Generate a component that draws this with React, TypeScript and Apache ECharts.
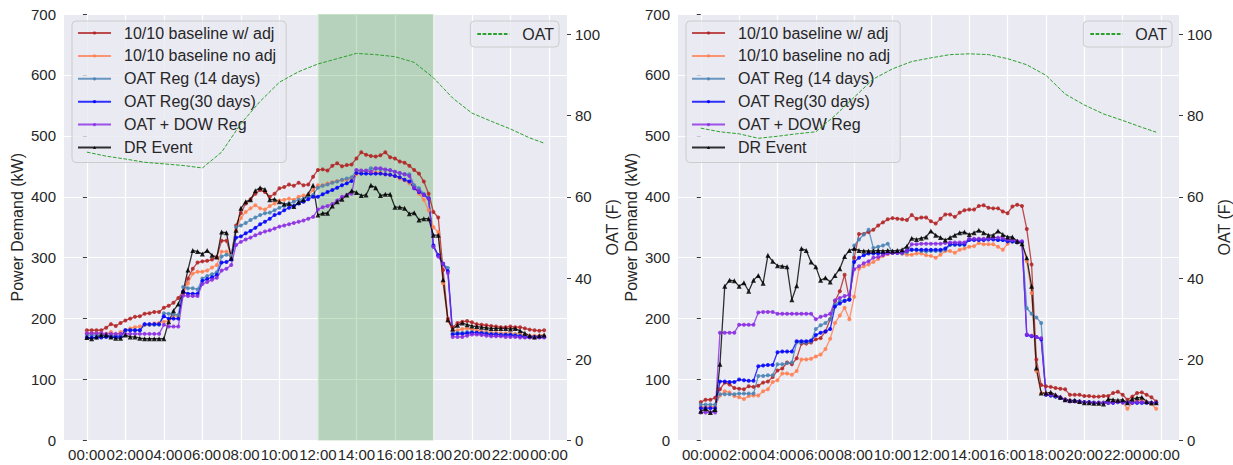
import React, { useEffect, useRef } from 'react';
import * as echarts from 'echarts';

// ---------- data ----------
const SERIES_NAMES = [
  '10/10 baseline w/ adj',
  '10/10 baseline no adj',
  'OAT Reg (14 days)',
  'OAT Reg(30 days)',
  'OAT + DOW Reg',
  'DR Event',
];
const SERIES_COLORS = ['#b22222', '#ff7f50', '#4682b4', '#0000ff', '#8a2be2', '#000000'];
const OAT_NAME = 'OAT';

// x tick labels (hours)
const X_TICKS = [0, 2, 4, 6, 8, 10, 12, 14, 16, 18, 20, 22, 24];
const OAT_TICKS = [0, 20, 40, 60, 80, 100];
const DR_WINDOW = [12, 18];

// OAT readings (hour of day -> F)
const OAT_HOURS = [0, 1, 2, 3, 4, 5, 6, 7, 8, 9, 10, 11, 12, 13, 14, 15, 16, 17, 18, 19, 20, 21, 22, 23, 23.75];
const L_OAT = [71.0, 70.0, 69.3, 68.5, 68.1, 67.7, 67.1, 71.0, 78.0, 83.5, 88.2, 90.8, 92.7, 94.0, 95.3, 95.0, 94.5, 93.1, 89.3, 84.3, 80.6, 78.6, 76.7, 74.5, 73.2];
const R_OAT = [76.9, 76.0, 75.5, 74.4, 74.9, 75.5, 76.0, 80.0, 84.5, 89.0, 91.5, 93.3, 94.2, 95.0, 95.2, 95.0, 94.0, 92.5, 89.9, 85.3, 82.6, 80.4, 78.8, 77.1, 75.9];

// 15-minute power demand (kW), left chart
const L_ADJ = [181,181,181,181,185,191,188,193,197,200,203,204,208,209,211,211,218,221,226,234,244,266,282,292,294,295,297,301,328,328,302,353,373,389,396,405,411,408,400,405,414,416,420,418,423,419,420,433,444,445,443,451,455,450,452,453,463,473,469,467,466,468,473,465,463,458,456,451,444,438,425,405,375,366,280,200,186,193,195,196,194,191,190,189,188,187,186,186,187,186,186,184,182,181,180,181];
const L_NOADJ = [176,176,176,176,175,178,174,178,181,184,186,187,190,190,192,193,195,196,205,204,240,258,274,277,277,279,284,288,310,310,303,345,365,375,381,386,381,379,385,389,394,395,397,395,400,402,403,411,419,419,422,424,426,427,428,430,437,441,442,441,440,440,437,436,434,430,427,422,415,405,395,378,350,342,258,197,180,181,183,184,182,181,179,178,177,177,176,176,176,175,174,173,172,172,172,172];
const L_OAT14 = [173,173,173,173,172,172,172,172,181,181,181,181,190,190,190,190,209,208,207,206,252,250,250,248,266,270,273,276,302,305,303,350,353,357,362,366,370,373,374,378,382,385,389,392,395,397,400,403,415,418,420,423,425,428,430,432,443,442,442,447,446,445,444,443,441,439,437,437,419,414,405,398,318,304,290,283,176,177,177,178,178,177,177,176,175,175,174,174,174,173,172,171,170,170,170,170];
const L_OAT30 = [169,169,169,169,170,170,170,170,181,181,181,181,191,191,191,191,204,200,200,200,244,241,241,241,262,265,268,272,292,293,297,333,335,340,344,349,355,359,364,370,373,378,382,385,389,392,396,400,400,404,408,411,415,419,422,426,439,438,438,438,438,438,437,436,434,432,428,425,414,408,403,397,320,304,290,278,174,175,175,176,177,177,176,175,174,174,173,173,173,172,171,170,170,170,170,170];
const L_DOW = [176,176,176,176,175,175,175,175,175,175,175,175,175,175,175,175,190,187,187,187,238,237,237,237,257,260,264,267,279,282,288,321,326,330,333,337,340,343,345,348,351,353,355,357,359,361,364,367,379,383,385,388,394,400,403,405,444,443,443,441,447,447,445,444,441,439,437,434,415,410,403,397,318,302,290,275,170,170,170,172,174,174,173,172,171,171,171,170,170,170,169,169,169,169,169,169];
const L_DR = [169,167,170,173,173,170,168,168,173,170,170,168,167,167,167,167,167,195,213,224,245,280,312,310,306,312,304,301,342,341,299,345,381,392,395,410,415,412,395,396,392,388,389,384,391,395,405,419,370,373,373,385,392,396,403,410,407,402,403,419,415,402,404,404,383,383,381,372,374,362,364,364,337,337,264,198,183,189,193,190,188,187,186,185,184,184,184,184,183,184,180,176,172,170,172,173];

// 15-minute power demand (kW), right chart
const R_ADJ = [63,67,67,70,84,95,92,86,85,84,89,88,90,95,97,104,115,118,128,125,135,159,159,161,166,168,179,199,229,245,272,232,300,339,339,342,346,353,358,363,365,364,363,362,370,364,366,366,360,356,364,371,371,367,374,378,379,379,385,386,382,381,381,376,373,384,387,385,347,289,133,91,89,88,86,85,84,75,75,75,73,73,72,72,73,73,78,80,75,67,72,78,79,75,71,64];
const R_NOADJ = [55,55,55,56,74,81,79,73,71,68,73,74,74,81,84,96,99,110,110,108,114,133,133,134,138,141,150,167,193,205,218,199,236,282,286,289,293,298,303,306,308,308,307,305,305,307,307,304,303,300,305,311,311,308,313,315,318,319,324,322,322,322,318,313,323,327,325,325,294,242,114,78,77,75,73,70,68,66,65,64,63,63,62,62,62,62,63,64,63,52,62,65,66,63,60,52];
const R_OAT14 = [59,59,59,59,76,76,76,76,77,77,77,77,106,106,107,107,125,125,127,128,161,161,161,163,183,189,193,199,223,229,230,232,320,330,338,346,316,318,320,323,308,308,307,309,313,313,311,310,311,311,311,313,321,321,321,321,330,330,330,330,331,331,329,329,327,326,325,325,217,208,202,193,75,74,72,70,67,65,65,64,63,63,62,62,62,62,62,63,63,62,62,62,62,62,62,62];
const R_OAT30 = [53,53,53,53,97,97,96,96,100,99,98,98,122,123,124,124,145,146,146,146,163,163,163,164,173,177,179,183,220,225,229,231,293,300,304,307,307,307,307,308,308,308,309,312,313,313,313,313,313,313,313,315,322,322,322,322,329,329,329,329,330,330,329,329,327,327,326,326,173,171,170,166,75,74,72,70,67,65,65,64,63,63,62,62,62,62,62,63,63,62,62,62,62,62,62,62];
const R_DOW = [46,46,46,46,177,177,177,177,190,190,190,190,210,211,211,211,208,208,208,208,208,208,208,208,199,203,205,208,230,234,237,239,281,286,291,294,300,301,304,307,308,308,308,311,322,322,323,323,323,323,323,324,325,325,325,325,331,331,331,331,331,333,333,332,330,329,327,327,174,172,170,168,76,75,73,71,67,64,64,63,63,62,62,62,62,62,63,63,62,62,62,63,63,62,62,62];
const R_DR = [48,52,46,51,125,253,263,262,253,259,245,263,271,258,304,294,287,286,285,231,254,315,312,293,285,263,267,260,271,282,302,312,315,312,311,311,311,312,311,312,311,312,313,319,332,330,332,334,344,337,333,329,333,337,341,342,338,341,345,341,337,337,344,338,334,334,327,323,300,253,119,78,78,79,75,71,67,66,66,64,62,62,61,61,60,68,67,66,67,62,68,70,71,64,62,62];

const LEFT_POWER = [L_ADJ, L_NOADJ, L_OAT14, L_OAT30, L_DOW, L_DR];
const RIGHT_POWER = [R_ADJ, R_NOADJ, R_OAT14, R_OAT30, R_DOW, R_DR];
const STEP_HOURS = 0.25;

// ---------- styling ----------
const FONT = 'Liberation Sans, Arial, sans-serif';
const TEXT = '#262626';
const BG = '#eaeaf2';
const GRIDS = [
  { left: 64, top: 14, width: 503, height: 426.5 },
  { left: 678, top: 14, width: 503, height: 426.5 },
];

function fmtHour(v: number) {
  const h = ((v % 24) + 24) % 24;
  return (h < 10 ? '0' : '') + h + ':00';
}

function buildOption() {
  const xAxis = GRIDS.map((_, gi) => ({
    type: 'value',
    gridIndex: gi,
    min: -1.1875,
    max: 24.9375,
    axisLine: { show: false },
    axisTick: { show: false, customValues: X_TICKS },
    axisLabel: {
      customValues: X_TICKS,
      formatter: fmtHour,
      fontSize: 15,
      color: TEXT,
      fontFamily: FONT,
      margin: 6,
    },
    splitLine: { show: true, lineStyle: { color: '#ffffff', width: 1.2 } },
  }));

  const yAxis: any[] = [];
  GRIDS.forEach((_, gi) => {
    yAxis.push({
      type: 'value',
      gridIndex: gi,
      min: 0,
      max: 700,
      interval: 100,
      position: 'left',
      name: 'Power Demand (kW)',
      nameLocation: 'middle',
      nameGap: 39,
      nameTextStyle: { fontSize: 16, color: TEXT, fontFamily: FONT },
      axisLine: { show: false },
      axisTick: { show: true, length: 4, lineStyle: { color: '#3a3a3a', width: 1 } },
      axisLabel: { fontSize: 15, color: TEXT, fontFamily: FONT, margin: 8 },
      splitLine: { show: true, lineStyle: { color: '#ffffff', width: 1.2 } },
    });
    yAxis.push({
      type: 'value',
      gridIndex: gi,
      min: 0,
      max: 105,
      position: 'right',
      name: 'OAT (F)',
      nameLocation: 'middle',
      nameGap: 37,
      nameTextStyle: { fontSize: 16, color: TEXT, fontFamily: FONT },
      axisLine: { show: false },
      axisTick: { show: true, length: 4, customValues: OAT_TICKS, lineStyle: { color: '#3a3a3a', width: 1 } },
      axisLabel: { customValues: OAT_TICKS, fontSize: 15, color: TEXT, fontFamily: FONT, margin: 8 },
      splitLine: { show: false },
    });
  });

  const series: any[] = [];
  [LEFT_POWER, RIGHT_POWER].forEach((group, gi) => {
    group.forEach((vals, si) => {
      const isDR = si === 5;
      const s: any = {
        type: 'line',
        name: SERIES_NAMES[si],
        xAxisIndex: gi,
        yAxisIndex: gi * 2,
        data: vals.map((v, i) => [i * STEP_HOURS, v]),
        symbol: isDR ? 'triangle' : 'circle',
        symbolSize: isDR ? 5 : 4,
        showSymbol: true,
        lineStyle: { color: SERIES_COLORS[si], width: 1.3, opacity: 0.8 },
        itemStyle: { color: SERIES_COLORS[si], opacity: 0.85 },
        z: 3,
      };
      if (gi === 0 && si === 0) {
        s.markArea = {
          silent: true,
          z: 1,
          itemStyle: { color: 'rgba(0,128,0,0.22)' },
          data: [[{ xAxis: DR_WINDOW[0] }, { xAxis: DR_WINDOW[1] }]],
        };
      }
      series.push(s);
    });
    series.push({
      type: 'line',
      name: OAT_NAME,
      xAxisIndex: gi,
      yAxisIndex: gi * 2 + 1,
      data: (gi === 0 ? L_OAT : R_OAT).map((v, i) => [OAT_HOURS[i], v]),
      showSymbol: false,
      symbol: 'circle',
      lineStyle: { color: '#2ca02c', width: 1, type: [3.7, 1.6] },
      itemStyle: { color: '#2ca02c' },
      z: 6,
    });
  });

  const legendCommon = {
    orient: 'vertical',
    backgroundColor: 'rgba(234,234,242,0.8)',
    borderColor: '#cccccc',
    borderWidth: 1,
    borderRadius: 4,
    itemHeight: 4,
    selectedMode: false,
    textStyle: { fontSize: 16, color: TEXT, fontFamily: FONT, lineHeight: 16, padding: [0, 0, 0, 8] },
    z: 4,
  };

  const legend: any[] = [];
  [0, 1].forEach((gi) => {
    legend.push({
      ...legendCommon,
      left: GRIDS[gi].left + 8,
      top: 21,
      itemWidth: 33,
      itemGap: 6.9,
      padding: [4, 10, 7, 5],
      data: SERIES_NAMES,
    });
    legend.push({
      ...legendCommon,
      right: gi === 0 ? 674 : 61,
      top: 21,
      itemWidth: 32,
      itemGap: 0,
      padding: [5, 5, 5, 6],
      data: [{ name: OAT_NAME, itemStyle: { opacity: 0 } }],
    });
  });

  return {
    animation: false,
    backgroundColor: '#ffffff',
    textStyle: { fontFamily: FONT },
    grid: GRIDS.map((g) => ({ ...g, show: true, backgroundColor: BG, borderWidth: 0 })),
    xAxis,
    yAxis,
    legend,
    series,
  };
}

export default function App() {
  const ref = useRef<HTMLDivElement>(null);
  useEffect(() => {
    if (!ref.current) return;
    const chart = echarts.init(ref.current, null, { renderer: 'svg' });
    chart.setOption(buildOption() as any);
    return () => chart.dispose();
  }, []);
  return (
    <div
      ref={ref}
      style={{ position: 'fixed', left: 0, top: 0, width: 1233, height: 465, background: '#ffffff' }}
    />
  );
}
